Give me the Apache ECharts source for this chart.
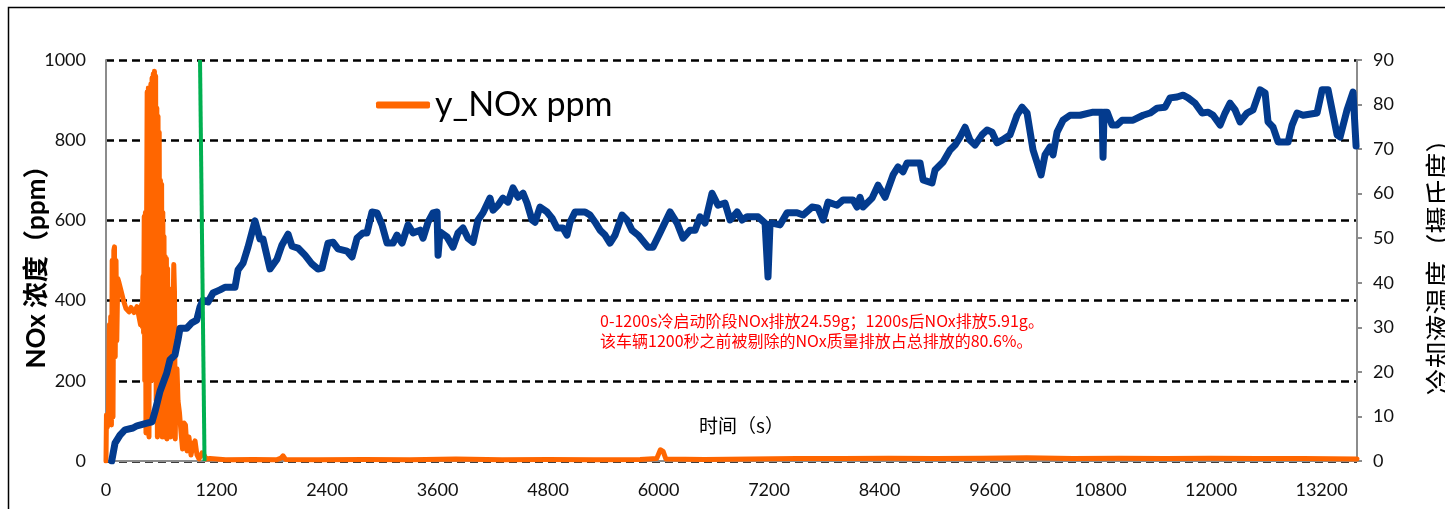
<!DOCTYPE html>
<html>
<head>
<meta charset="utf-8">
<script src="https://cdn.jsdelivr.net/npm/echarts@6/dist/echarts.min.js"></script>
<style>
  html, body { margin: 0; padding: 0; background: #fff; }
  #chart { width: 1445px; height: 509px; }
</style>
</head>
<body>
<div id="chart"></div>
<script>
// Time axis ticks (s)
const timeTicks = [0, 1200, 2400, 3600, 4800, 6000, 7200, 8400, 9600, 10800, 12000, 13200];
const timeMax = 13585;

// NOx concentration (ppm) over time (s)
const noxTime = [0, 5, 16, 27, 36, 43, 51, 59, 67, 76, 85, 92, 100, 109, 117, 128, 141, 163, 190, 217,
  250, 272, 304, 337, 358, 375, 386, 394, 402, 408, 415, 421, 428, 434, 441, 447, 454, 460, 467, 473,
  480, 487, 493, 500, 506, 513, 519, 526, 532, 539, 545, 552, 558, 565, 571, 578, 584, 591, 597, 604,
  610, 617, 623, 630, 636, 643, 649, 656, 662, 669, 675, 682, 689, 695, 702, 708, 717, 728, 736, 744,
  752, 760, 771, 782, 798, 815, 831, 847, 863, 880, 901, 923, 945, 967, 988, 1010, 1043, 1064, 1086, 1129,
  1300, 1600, 1850, 1900, 1922, 1950, 2300, 2800, 3300, 3800, 4300, 4800, 5300, 5800, 5980, 6020, 6050, 6080,
  6500, 7000, 7500, 8000, 8500, 9000, 9500, 10000, 10500, 11000, 11500, 12000, 12500, 13000, 13585];
const noxPpm = [0, 115, 85, 120, 340, 150, 360, 90, 500, 110, 525, 534, 260, 500, 300, 455, 445, 425, 400, 380,
  372, 383, 370, 385, 383, 340, 390, 335, 460, 320, 610, 200, 620, 70, 600, 920, 150, 930, 60, 880,
  400, 940, 200, 955, 300, 965, 500, 972, 600, 960, 150, 880, 60, 860, 400, 820, 100, 700, 250, 690,
  60, 620, 300, 560, 60, 510, 200, 505, 55, 480, 250, 430, 120, 400, 60, 350, 250, 380, 490, 420,
  55, 200, 230, 150, 120, 70, 30, 95, 90, 25, 60, 15, 40, 50, 15, 5, 20, 15, 5, 6,
  3, 4, 3, 7, 13, 4, 3, 4, 3, 5, 3, 4, 3, 4, 6, 28, 24, 5,
  4, 5, 6, 6, 7, 6, 7, 8, 6, 7, 6, 7, 6, 6, 5];

// Coolant temperature (°C) over time (s)
const coolantTime = [62, 98, 152, 206, 293, 337, 445, 500, 532, 586, 659, 695, 749, 782, 804, 876, 931, 985, 1021, 1053,
  1108, 1162, 1238, 1292, 1401, 1434, 1488, 1542, 1618, 1672, 1705, 1781, 1857, 1911, 1977, 2020, 2085, 2161, 2237, 2302,
  2346, 2411, 2465, 2520, 2617, 2672, 2726, 2791, 2834, 2889, 2943, 2997, 3052, 3117, 3160, 3215, 3280, 3334, 3410, 3443,
  3497, 3551, 3595, 3606, 3627, 3703, 3768, 3823, 3877, 3931, 3986, 4040, 4094, 4170, 4203, 4257, 4311, 4366, 4420, 4474,
  4529, 4572, 4626, 4659, 4713, 4789, 4844, 4898, 4963, 5006, 5039, 5093, 5202, 5256, 5311, 5365, 5419, 5473, 5528, 5604,
  5658, 5712, 5778, 5886, 5940, 6016, 6125, 6201, 6266, 6342, 6397, 6451, 6505, 6581, 6646, 6722, 6777, 6853, 6907, 6961,
  7081, 7157, 7178, 7189, 7211, 7233, 7320, 7396, 7504, 7569, 7667, 7732, 7787, 7841, 7939, 8004, 8112, 8156, 8188, 8221,
  8319, 8384, 8460, 8547, 8601, 8655, 8699, 8840, 8873, 8970, 9003, 9090, 9166, 9220, 9274, 9329, 9383, 9437, 9513, 9568,
  9622, 9676, 9731, 9817, 9893, 9948, 10002, 10067, 10154, 10197, 10252, 10284, 10328, 10393, 10469, 10578, 10719, 10795, 10817, 10827,
  10838, 10871, 10925, 10979, 11034, 11153, 11262, 11338, 11414, 11501, 11555, 11631, 11696, 11751, 11827, 11903, 11968, 12022, 12098, 12152,
  12207, 12261, 12315, 12391, 12456, 12532, 12587, 12619, 12674, 12728, 12837, 12880, 12934, 12999, 13151, 13206, 13271, 13369, 13401, 13477,
  13542, 13575];
const coolantTemp = [0, 4.0, 5.8, 7.0, 7.4, 7.9, 8.5, 8.8, 11.1, 15.6, 19.7, 22.7, 23.8, 27.2, 29.8, 29.8, 31.0, 31.6, 34.6, 36.1,
  35.7, 37.7, 38.4, 39.0, 39.0, 42.9, 44.4, 48.0, 53.9, 49.8, 49.8, 43.1, 45.3, 48.5, 50.9, 48.2, 47.8, 46.2, 44.2, 43.1,
  43.3, 48.9, 49.1, 47.6, 47.1, 45.8, 50.0, 51.2, 51.2, 55.9, 55.7, 53.0, 48.9, 48.9, 50.7, 48.9, 53.0, 51.2, 51.8, 50.0,
  53.6, 55.7, 55.9, 46.2, 51.4, 50.3, 48.0, 51.2, 52.3, 50.0, 49.1, 54.1, 55.7, 59.0, 56.3, 57.4, 59.0, 58.1, 61.3, 59.2,
  60.1, 57.9, 54.1, 53.6, 57.0, 55.9, 54.5, 52.3, 52.3, 50.7, 53.6, 55.9, 55.9, 55.2, 53.6, 51.8, 50.7, 48.9, 50.7, 55.2,
  54.1, 51.8, 50.7, 48.0, 48.0, 51.2, 55.9, 53.4, 50.0, 51.8, 51.8, 54.8, 53.4, 60.1, 57.4, 57.9, 54.1, 55.9, 54.1, 54.8,
  54.8, 53.4, 53.2, 41.3, 53.2, 53.4, 53.0, 55.7, 55.7, 55.2, 57.0, 56.8, 54.1, 58.1, 57.4, 58.6, 58.6, 57.0, 59.2, 57.0,
  59.0, 61.9, 59.2, 64.2, 66.0, 64.9, 66.9, 66.9, 63.1, 62.4, 65.3, 67.1, 69.8, 70.9, 72.7, 74.9, 72.0, 70.9, 73.2, 74.3,
  73.8, 71.4, 72.0, 73.2, 77.6, 79.4, 78.1, 69.8, 64.2, 68.7, 70.5, 68.7, 73.8, 76.5, 77.6, 77.6, 78.3, 78.3, 78.3, 68.2,
  78.3, 78.3, 75.4, 75.4, 76.5, 76.5, 77.6, 78.1, 79.2, 79.4, 81.5, 81.7, 82.1, 81.5, 80.3, 78.1, 78.3, 77.6, 75.4, 78.1,
  80.3, 78.8, 76.1, 78.1, 78.8, 83.3, 82.6, 76.1, 74.9, 71.6, 71.6, 75.4, 78.1, 77.6, 78.1, 83.3, 83.3, 73.2, 72.7, 78.8,
  82.8, 70.7];

// Cold-start boundary marker (time s, ppm)
const markerTime = [1021, 1070];
const markerPpm = [1000, 0];

const noteLines = [
  '0-1200s冷启动阶段NOx排放24.59g；1200s后NOx排放5.91g。',
  '该车辆1200秒之前被剔除的NOx质量排放占总排放的80.6%。'
];

const zip = (xs, ys) => xs.map((x, i) => [x, ys[i]]);
const latin = 'Lato, "Noto Sans CJK SC", sans-serif';
const cjk = '"Noto Sans CJK SC", Lato, sans-serif';

const chart = echarts.init(document.getElementById('chart'), null, { renderer: 'canvas' });

chart.setOption({
  animation: false,
  backgroundColor: '#fff',
  grid: { left: 106, right: 88, top: 60, bottom: 48, outerBoundsMode: 'none', containLabel: false },
  legend: {
    data: [{ name: 'y_NOx ppm' }],
    left: 371, top: 83,
    icon: 'roundRect',
    itemWidth: 54, itemHeight: 7,
    textStyle: { fontSize: 34, fontFamily: latin, color: '#000' }
  },
  xAxis: {
    type: 'value',
    min: 0, max: timeMax, interval: 1200,
    axisLine: { lineStyle: { color: '#8c8c8c', width: 2 } },
    axisTick: { show: false },
    splitLine: { show: false },
    axisLabel: {
      showMaxLabel: false,
      margin: 20, fontSize: 18, fontFamily: latin, color: '#111',
      formatter: v => (timeTicks.includes(v) ? String(v) : '')
    }
  },
  yAxis: [
    {
      type: 'value', min: 0, max: 1000, interval: 200,
      name: 'NOx 浓度（ppm）', nameLocation: 'middle', nameGap: 56, nameRotate: 90,
      nameMoveOverlap: false,
      nameTextStyle: { fontSize: 26, fontWeight: 'bold', fontFamily: latin, color: '#000' },
      axisLine: { show: true, lineStyle: { color: '#8c8c8c', width: 2 } },
      axisTick: { show: false },
      axisLabel: { margin: 20, fontSize: 18, fontFamily: latin, color: '#111', formatter: v => String(v) },
      splitLine: { show: true, lineStyle: { color: '#000', width: 2.5, type: [8, 5] } }
    },
    {
      type: 'value', min: 0, max: 90, interval: 10, position: 'right',
      name: '冷却液温度（摄氏度）', nameLocation: 'middle', nameGap: 68, nameRotate: 90,
      nameMoveOverlap: false,
      nameTextStyle: { fontSize: 27, fontFamily: cjk, color: '#000' },
      axisLine: { show: true, lineStyle: { color: '#8c8c8c', width: 2 } },
      axisTick: { show: true, length: 5, lineStyle: { color: '#8c8c8c', width: 2 } },
      axisLabel: { margin: 16, fontSize: 18, fontFamily: latin, color: '#111' },
      splitLine: { show: false }
    }
  ],
  series: [
    {
      name: 'y_NOx ppm', type: 'line', yAxisIndex: 0,
      data: zip(noxTime, noxPpm),
      showSymbol: false, symbol: 'none',
      itemStyle: { color: '#ff6600' },
      lineStyle: { color: '#ff6600', width: 5, cap: 'round', join: 'round' },
      z: 2
    },
    {
      name: '冷却液温度', type: 'line', yAxisIndex: 1,
      data: zip(coolantTime, coolantTemp),
      showSymbol: false, symbol: 'none',
      lineStyle: { color: '#033b8e', width: 7, cap: 'round', join: 'round' },
      z: 3
    },
    {
      name: '1200s', type: 'line', yAxisIndex: 0,
      data: zip(markerTime, markerPpm),
      showSymbol: false, symbol: 'none',
      lineStyle: { color: '#00b050', width: 4 },
      z: 4
    }
  ],
  graphic: [
    {
      type: 'rect', silent: true,
      shape: { x: 8.5, y: 7.5, width: 1460, height: 530 },
      style: { fill: null, stroke: '#000', lineWidth: 1.5 }
    },
    {
      type: 'text', left: 699, top: 416,
      style: { text: '时间（s）', fontSize: 19, fontFamily: cjk, fill: '#000' }
    },
    {
      type: 'text', left: 600, top: 311,
      style: { text: noteLines.join('\n'), fontSize: 16, lineHeight: 20, fontFamily: cjk, fill: '#ff0000' }
    }
  ]
});
</script>
</body>
</html>
